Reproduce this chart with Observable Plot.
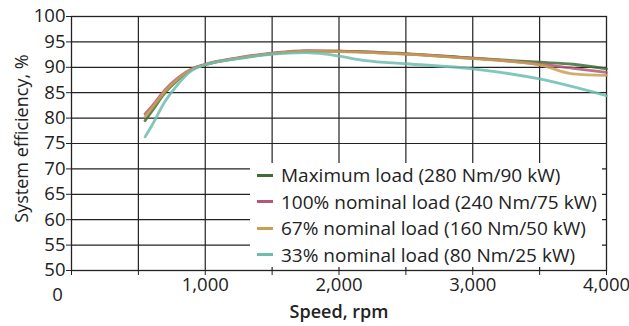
<!DOCTYPE html>
<html>
<head>
<meta charset="utf-8">
<script src="https://cdn.jsdelivr.net/npm/d3@7"></script>
<script src="https://cdn.jsdelivr.net/npm/@observablehq/plot@0.6"></script>
<style>
  html, body { margin: 0; padding: 0; background: #fff; }
  #wrap { position: relative; width: 629px; height: 326px; font-family: "Open Sans", sans-serif; }
  #legend { position: absolute; left: 250px; top: 163px; width: 352px; height: 104px; background: #fff; }
  .row { position: absolute; left: 0; height: 26px; display: flex; align-items: center; font-size: 19px; color: #222; white-space: nowrap; }
  .sw { width: 16px; height: 3px; margin-left: 7px; margin-right: 8px; }
</style>
</head>
<body>
<div id="wrap"></div>
<script>
// Series names and colours
const seriesNames = [
  "Maximum load (280 Nm/90 kW)",
  "100% nominal load (240 Nm/75 kW)",
  "67% nominal load (160 Nm/50 kW)",
  "33% nominal load (80 Nm/25 kW)"
];
const seriesColors = ["#3f6e35", "#b3587a", "#c9a050", "#6cbcb0"];

// Speeds (rpm) and efficiencies (%)
const speeds = [550, 600, 700, 800, 900, 1000, 1250, 1500, 1750, 2000, 2500, 3000, 3500, 3750, 4000];
const maxLoad = [79.5, 81.3, 85.0, 87.6, 89.6, 90.5, 91.8, 92.7, 93.2, 93.2, 92.7, 91.8, 91.0, 90.6, 89.7];
const nominal100 = [80.8, 82.3, 85.6, 88.0, 89.7, 90.6, 91.9, 92.8, 93.3, 93.2, 92.6, 91.8, 90.6, 89.8, 89.0];
const nominal67 = [80.3, 81.9, 85.3, 87.8, 89.6, 90.5, 91.8, 92.7, 93.2, 93.1, 92.6, 91.7, 90.5, 88.7, 88.4];
const speeds33 = [550, 600, 700, 800, 900, 1000, 1250, 1500, 1750, 1900, 2000, 2200, 2500, 3000, 3500, 4000];
const nominal33 = [76.3, 78.5, 83.3, 86.8, 89.4, 90.5, 91.7, 92.6, 92.9, 92.6, 92.2, 91.3, 90.7, 89.7, 87.7, 84.4];

// Axis ticks
const xLabelTicks = [1000, 2000, 3000, 4000];
const xZeroTick = [0];
const xGridTicks = [500, 1000, 1500, 2000, 2500, 3000, 3500];
const xTickMarks = [0, 500, 1000, 1500, 2000, 2500, 3000, 3500, 4000];
const yTicks = [50, 55, 60, 65, 70, 75, 80, 85, 90, 95, 100];

const rows = [];
[[speeds, maxLoad], [speeds, nominal100], [speeds, nominal67], [speeds33, nominal33]].forEach(([xs, ys], i) => {
  xs.forEach((s, j) => rows.push({series: seriesNames[i], speed: s, eff: ys[j]}));
});
const fmt = d3.format(",");

const chart = Plot.plot({
  width: 629,
  height: 326,
  marginLeft: 71,
  marginRight: 23,
  marginTop: 16,
  marginBottom: 56,
  style: {fontFamily: "Open Sans, sans-serif", fontSize: "18.5px", color: "#222", background: "#fff"},
  x: {domain: [0, 4000]},
  y: {domain: [50, 100]},
  color: {domain: seriesNames, range: seriesColors},
  marks: [
    Plot.gridX(xGridTicks, {stroke: "#222", strokeOpacity: 1, strokeWidth: 1.2}),
    Plot.gridY(yTicks, {stroke: "#222", strokeOpacity: 1, strokeWidth: 1.2}),
    Plot.frame({stroke: "#222", strokeWidth: 1.3}),
    Plot.axisY(yTicks, {tickSize: 5, tickPadding: 1, label: null, fontSize: 18.5, stroke: "#222"}),
    Plot.axisX(xTickMarks, {tickSize: 5, tickFormat: () => "", label: null, stroke: "#222"}),
    Plot.axisX(xLabelTicks, {tickSize: 0, tickPadding: 7, tickFormat: fmt, label: null, fontSize: 18.5}),
    Plot.axisX(xZeroTick, {tickSize: 0, tickPadding: 17, dx: -14, tickFormat: fmt, label: null, fontSize: 18.5}),
    Plot.text(["System efficiency, %"], {frameAnchor: "left", textAnchor: "middle", rotate: -90, dx: -49, dy: -5, fontSize: 18, fill: "#222"}),
    Plot.text(["Speed, rpm"], {frameAnchor: "bottom", dy: 47, fontSize: 18, fontWeight: 600, fill: "#222"}),
    Plot.line(rows, {x: "speed", y: "eff", z: "series", stroke: "series", strokeWidth: 2.8, strokeOpacity: 0.85, curve: "monotone-x"})
  ]
});
const wrap = document.getElementById("wrap");
wrap.appendChild(chart);

const legend = document.createElement("div");
legend.id = "legend";
seriesNames.forEach((name, i) => {
  const r = document.createElement("div");
  r.className = "row";
  r.style.top = (-1 + i * 26.5) + "px";
  const sw = document.createElement("span");
  sw.className = "sw";
  sw.style.background = seriesColors[i];
  const t = document.createElement("span");
  t.textContent = name;
  r.appendChild(sw);
  r.appendChild(t);
  legend.appendChild(r);
});
wrap.appendChild(legend);
</script>
</body>
</html>
